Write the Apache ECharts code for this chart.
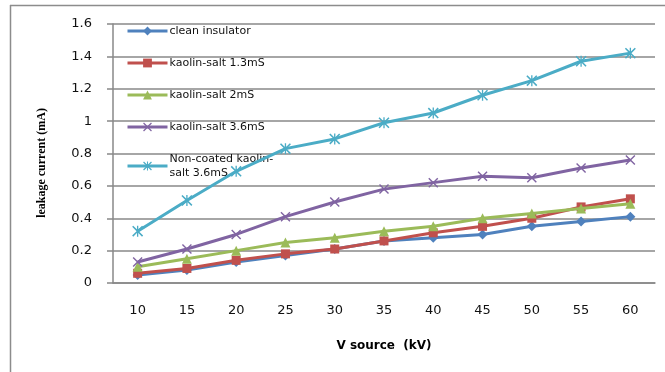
<!DOCTYPE html>
<html><head><meta charset="utf-8">
<script src="https://cdn.jsdelivr.net/npm/echarts@6/dist/echarts.min.js"></script>
<style>html,body{margin:0;padding:0;background:#fff}#c{width:665px;height:372px}</style>
</head><body><div id="c"></div>
<script>
var categories = ['10','15','20','25','30','35','40','45','50','55','60'];
var cleanInsulator = [0.05,0.08,0.13,0.17,0.21,0.26,0.28,0.30,0.35,0.38,0.41];
var kaolin13 = [0.06,0.09,0.14,0.18,0.21,0.26,0.31,0.35,0.40,0.47,0.52];
var kaolin2 = [0.10,0.15,0.20,0.25,0.28,0.32,0.35,0.40,0.43,0.46,0.49];
var kaolin36 = [0.13,0.21,0.30,0.41,0.50,0.58,0.62,0.66,0.65,0.71,0.76];
var nonCoated = [0.32,0.51,0.69,0.83,0.89,0.99,1.05,1.16,1.25,1.37,1.42];
var seriesNames = ['clean insulator','kaolin-salt 1.3mS','kaolin-salt 2mS','kaolin-salt 3.6mS','Non-coated kaolin-salt 3.6mS'];

var crossPath = 'path://M0,1L1,0L5,4L9,0L10,1L6,5L10,9L9,10L5,6L1,10L0,9L4,5Z';
var starPath = 'path://M0,1L1,0L5,4L9,0L10,1L6,5L10,9L9,10L5,6L1,10L0,9L4,5Z M4.4,0L5.6,0L5.6,10L4.4,10Z';

var colors = ['#4F81BD','#C0504D','#9BBB59','#8064A2','#4BACC6'];
var symbols = ['diamond','rect','triangle',crossPath,starPath];
var sizes = [10,9,10,10,11];
var datas = [cleanInsulator,kaolin13,kaolin2,kaolin36,nonCoated];

var chart = echarts.init(document.getElementById('c'));
var gridColor = '#888888';
chart.setOption({
  animation:false,
  backgroundColor:'#fff',
  grid:{left:113,right:10,top:24,bottom:89},
  legend:{
    orient:'vertical', left:121, top:19, itemWidth:40, itemHeight:11, itemGap:18,
    data:seriesNames,
    lineStyle:{width:3},
    formatter:function(n){return n==='Non-coated kaolin-salt 3.6mS'?'Non-coated kaolin-\nsalt 3.6mS':n;},
    textStyle:{fontFamily:'DejaVu Sans',fontSize:11,color:'#111',padding:[0,0,0,-3],lineHeight:14}
  },
  xAxis:{
    type:'category', data:categories, boundaryGap:true,
    name:'V source  (kV)', nameLocation:'middle', nameGap:57,
    nameTextStyle:{fontFamily:'DejaVu Sans',fontWeight:'bold',fontSize:12,color:'#000'},
    axisLine:{lineStyle:{color:gridColor,width:1.5}},
    axisTick:{show:false},
    axisLabel:{fontFamily:'DejaVu Sans',fontSize:13,color:'#111',margin:21}
  },
  yAxis:{
    type:'value', min:0, max:1.6, interval:0.2,
    axisLine:{show:true,lineStyle:{color:gridColor,width:1.5}},
    axisTick:{show:true,length:6,lineStyle:{color:gridColor,width:1.5}},
    splitLine:{lineStyle:{color:gridColor,width:1.5}},
    axisLabel:{fontFamily:'DejaVu Sans',fontSize:13,color:'#111',margin:21}
  },
  series:datas.map(function(d,i){
    return {
      name:seriesNames[i], type:'line', data:d,
      symbol:symbols[i], symbolSize:sizes[i], showSymbol:true,
      lineStyle:{color:colors[i],width:3},
      itemStyle:{color:colors[i]},
      z:2+i
    };
  }),
  graphic:[
    {type:'line',shape:{x1:10,y1:5.5,x2:665,y2:5.5},style:{stroke:'#8c8c8c',lineWidth:1.5}},
    {type:'line',shape:{x1:10.5,y1:5,x2:10.5,y2:372},style:{stroke:'#8c8c8c',lineWidth:1.5}},
    {type:'text',x:42,y:163,rotation:Math.PI/2,
     style:{text:'leakage current (mA)',font:'bold 12px "Liberation Serif"',fill:'#000',align:'center',verticalAlign:'middle'}}
  ]
});
</script></body></html>
